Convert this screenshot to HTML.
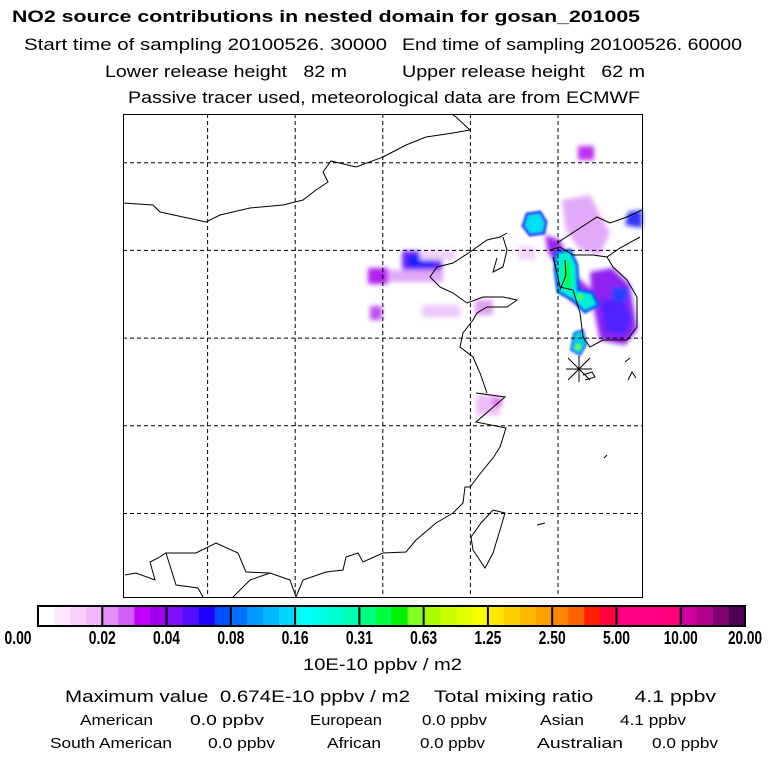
<!DOCTYPE html>
<html><head><meta charset="utf-8">
<style>
body{margin:0;background:#fff;width:768px;height:768px;overflow:hidden;font-family:"Liberation Sans",sans-serif;}
svg{display:block}
text{white-space:pre}
</style></head>
<body>
<svg id="chart" width="768" height="768" viewBox="0 0 768 768">
<defs>
<filter id="bl" x="-50%" y="-50%" width="200%" height="200%"><feGaussianBlur stdDeviation="2.5"/></filter>
<filter id="bl2" x="-50%" y="-50%" width="200%" height="200%"><feGaussianBlur stdDeviation="1"/></filter>
</defs>
<g font-family="Liberation Sans, sans-serif">
<text x="12" y="22" font-size="17" font-weight="bold" textLength="628" lengthAdjust="spacingAndGlyphs">NO2 source contributions in nested domain for gosan_201005</text>
<text x="24" y="50" font-size="17" textLength="363" lengthAdjust="spacingAndGlyphs">Start time of sampling 20100526. 30000</text>
<text x="402" y="50" font-size="17" textLength="340" lengthAdjust="spacingAndGlyphs">End time of sampling 20100526. 60000</text>
<text x="105" y="77" font-size="17" textLength="242" lengthAdjust="spacingAndGlyphs">Lower release height   82 m</text>
<text x="402" y="77" font-size="17" textLength="243" lengthAdjust="spacingAndGlyphs">Upper release height   62 m</text>
<text x="128" y="103" font-size="17" textLength="512" lengthAdjust="spacingAndGlyphs">Passive tracer used, meteorological data are from ECMWF</text>
</g>
<g id="map">
<g filter="url(#bl)">
<rect x="578" y="146" width="16" height="14" fill="#c030f0"/>
<polygon points="562,200 590,195 600,215 610,232 600,255 580,250 566,230" fill="#e0a0f8" opacity="0.9"/>
<polygon points="545,235 560,240 568,260 578,278 592,290 600,300 585,310 570,300 560,270 548,252" fill="#a020f0"/>
<polygon points="590,272 612,268 630,285 637,330 625,345 600,340 592,300" fill="#9020f0"/>
<polygon points="600,300 622,298 632,318 625,335 605,332" fill="#5020ff"/>
<rect x="612" y="287" width="16" height="14" fill="#2040ff"/>
<polygon points="628,212 642,210 642,228 625,225" fill="#3030ff"/>
<rect x="368" y="268" width="20" height="16" fill="#b020f0"/>
<rect x="402" y="251" width="40" height="20" fill="#7020f8"/>
<rect x="408" y="255" width="26" height="12" fill="#1020ff"/>
<rect x="388" y="270" width="55" height="12" fill="#e0a8f8"/>
<rect x="370" y="306" width="12" height="14" fill="#c050f0"/>
<rect x="422" y="305" width="38" height="12" fill="#ecc8fa"/>
<rect x="475" y="300" width="18" height="15" fill="#e0a0f0"/>
<rect x="476" y="395" width="24" height="20" fill="#ecc0f6"/>
<rect x="492" y="398" width="10" height="8" fill="#e070f0"/>
<rect x="518" y="246" width="18" height="14" fill="#f4d8fa"/>
<rect x="420" y="250" width="35" height="10" fill="#f0d0fa"/>
</g>
<g filter="url(#bl2)">
<polygon points="527,214 540,212 546,222 544,233 530,235 523,226" fill="#00e0f0" stroke="#2040ff" stroke-width="3"/>
<polygon points="556,253 570,250 577,265 578,290 592,293 598,305 585,312 573,300 558,292 555,270" fill="#00f0d0" stroke="#0060ff" stroke-width="3"/>
<polygon points="564,262 570,262 572,285 566,290 562,278" fill="#00ff60"/>
<polygon points="574,333 583,330 586,345 580,355 571,350" fill="#00d0e0" stroke="#2060ff" stroke-width="2"/>
<circle cx="578" cy="347" r="3" fill="#60ff00"/>
<circle cx="580" cy="297" r="3" fill="#40ff40"/>
</g>
<g id="grid" stroke="#000" stroke-dasharray="4,3" stroke-width="1"></g>
<g fill="none" stroke="#000" stroke-width="1">
<polyline points="123,203 153,205 160,212 183,217 206,222 220,215 250,208 283,205 303,200 316,190 328,182 323,172 331,161 356,167 383,157 406,145 426,137 453,133 470,130 456,117 453,115"/>
<polyline points="507,233 500,237 487,240 470,252 453,263 437,267 430,277 440,287 453,293 467,303 483,297 503,297 517,300 507,307 487,307 477,313 473,320 463,333 460,347 473,357 480,373 487,393"/>
<polyline points="476,393 505,397 476,422 506,428 500,447 493,458 483,470 470,487 465,487 463,503 453,513 436,523 416,540 406,552 383,553 363,562 358,553 346,557 343,570 326,572 303,580 296,597 290,580 270,573 246,572 238,553 216,543 196,553 166,553 158,558 150,562 155,580 136,573 125,575"/>
<polyline points="166,553 176,585 198,588 203,597"/>
<polyline points="233,597 250,580 270,573"/>
<polyline points="497,258 493,272 503,267 507,250 503,237"/>
<polyline points="550,250 560,247 573,255 593,255 607,257 613,267 627,280 637,297 637,327 627,340 603,340 590,347 583,337 580,313 573,290 560,287 557,273 553,257"/>
<polyline points="557,243 597,217 610,223 627,217 642,210"/>
<polyline points="607,257 620,248 640,237"/>
<polyline points="560,290 566,275 565,260"/>
<polygon points="493,510 505,513 500,530 493,553 485,568 473,550 471,537 481,523"/>
<polyline points="628,380 632,372 636,378"/>
<polyline points="625,362 630,358"/>
<polyline points="537,525 545,523"/>
<polyline points="604,458 607,455"/>
<polyline points="583,375 592,372 595,377 585,380"/>
</g>
<g stroke="#000" stroke-width="1">
<line x1="568" y1="358" x2="590" y2="380"/><line x1="590" y1="358" x2="568" y2="380"/>
<line x1="579" y1="356" x2="579" y2="382"/><line x1="566" y1="369" x2="592" y2="369"/>
</g>
<rect x="123.5" y="114.5" width="519" height="483" fill="none" stroke="#000" stroke-width="1"/>
</g>
<g id="colorbar"></g>
<g font-family="Liberation Sans, sans-serif">
<text x="303" y="670" font-size="17" textLength="159" lengthAdjust="spacingAndGlyphs">10E-10 ppbv / m2</text>
<text x="65" y="702" font-size="17" textLength="345" lengthAdjust="spacingAndGlyphs">Maximum value  0.674E-10 ppbv / m2</text>
<text x="434" y="702" font-size="17" textLength="282" lengthAdjust="spacingAndGlyphs">Total mixing ratio       4.1 ppbv</text>
<g font-size="15">
<text x="80" y="725" textLength="73" lengthAdjust="spacingAndGlyphs">American</text>
<text x="190" y="725" textLength="74" lengthAdjust="spacingAndGlyphs">0.0 ppbv</text>
<text x="310" y="725" textLength="72" lengthAdjust="spacingAndGlyphs">European</text>
<text x="422" y="725" textLength="65" lengthAdjust="spacingAndGlyphs">0.0 ppbv</text>
<text x="540" y="725" textLength="44" lengthAdjust="spacingAndGlyphs">Asian</text>
<text x="620" y="725" textLength="66" lengthAdjust="spacingAndGlyphs">4.1 ppbv</text>
<text x="50" y="748" textLength="122" lengthAdjust="spacingAndGlyphs">South American</text>
<text x="208" y="748" textLength="67" lengthAdjust="spacingAndGlyphs">0.0 ppbv</text>
<text x="327" y="748" textLength="54" lengthAdjust="spacingAndGlyphs">African</text>
<text x="420" y="748" textLength="65" lengthAdjust="spacingAndGlyphs">0.0 ppbv</text>
<text x="537" y="748" textLength="86" lengthAdjust="spacingAndGlyphs">Australian</text>
<text x="652" y="748" textLength="66" lengthAdjust="spacingAndGlyphs">0.0 ppbv</text>
</g>
</g>
</svg>
<script>
const NS="http://www.w3.org/2000/svg";
const gridLon=[1,2,3,4,5];
const gridLat=[1,2,3,4,5];
const tickLabels=["0.00","0.02","0.04","0.08","0.16","0.31","0.63","1.25","2.50","5.00","10.00","20.00"];
const segColors=[
["#ffffff","#fde8fd","#f8d0f8","#f0b8f6"],
["#e090f8","#d060f8","#c000f8","#a000f0"],
["#8010ff","#5010ff","#2000ff","#0050ff"],
["#0070ff","#0098ff","#00b8ff","#00d8ff"],
["#00ffff","#00ffe8","#00ffd0","#00ffb0"],
["#00ff80","#00ff40","#00f000","#80ff20"],
["#a8ff00","#c8ff00","#e0ff00","#f8ff00"],
["#ffe800","#ffd000","#ffb800","#ffa000"],
["#ff8800","#ff6000","#ff2000","#ff0040"],
["#ff0080","#ff0080","#ff0080","#ff0078"],
["#d000a0","#b00090","#800070","#500050"]];
function xMap(i){return 123+i*87.6;}
function yMap(i){return 114+i*87.7;}
const grid=document.getElementById('grid');
gridLon.forEach(i=>{const l=document.createElementNS(NS,'line');


l.setAttribute('x1',xMap(i)-3);l.setAttribute('x2',xMap(i)-3);l.setAttribute('y1',114);l.setAttribute('y2',598);grid.appendChild(l);});
gridLat.forEach(i=>{const l=document.createElementNS(NS,'line');


l.setAttribute('x1',123);l.setAttribute('x2',643);l.setAttribute('y1',yMap(i)-39);l.setAttribute('y2',yMap(i)-39);grid.appendChild(l);});
const cb=document.getElementById('colorbar');
const x0=38,x1=745,n=segColors.length,w=(x1-x0)/n;
function cx(i){return x0+i*w;}
segColors.forEach((cols,i)=>{cols.forEach((c,j)=>{const r=document.createElementNS(NS,'rect');


r.setAttribute('x',cx(i)+j*w/cols.length);r.setAttribute('y',606);r.setAttribute('width',w/cols.length+0.5);r.setAttribute('height',20);r.setAttribute('fill',c);cb.appendChild(r);});});
for(let i=0;i<=n;i++){const l=document.createElementNS(NS,'line');


l.setAttribute('x1',cx(i));l.setAttribute('x2',cx(i));l.setAttribute('y1',606);l.setAttribute('y2',626);l.setAttribute('stroke','#000');l.setAttribute('stroke-width','2');cb.appendChild(l);}
const fr=document.createElementNS(NS,'rect');


fr.setAttribute('x',x0);fr.setAttribute('y',606);fr.setAttribute('width',x1-x0);fr.setAttribute('height',20);fr.setAttribute('fill','none');fr.setAttribute('stroke','#000');fr.setAttribute('stroke-width','2');cb.appendChild(fr);
tickLabels.forEach((t,i)=>{const tx=document.createElementNS(NS,'text');


tx.setAttribute('x',i==0?18:cx(i));tx.setAttribute('y',644);tx.setAttribute('text-anchor','middle');
tx.setAttribute('font-size','18');tx.setAttribute('font-weight','bold');tx.setAttribute('font-family','Liberation Sans, sans-serif');
tx.setAttribute('textLength',t.length>4?34:27);tx.setAttribute('lengthAdjust','spacingAndGlyphs');
tx.textContent=t;cb.appendChild(tx);});
</script>
</body></html>
